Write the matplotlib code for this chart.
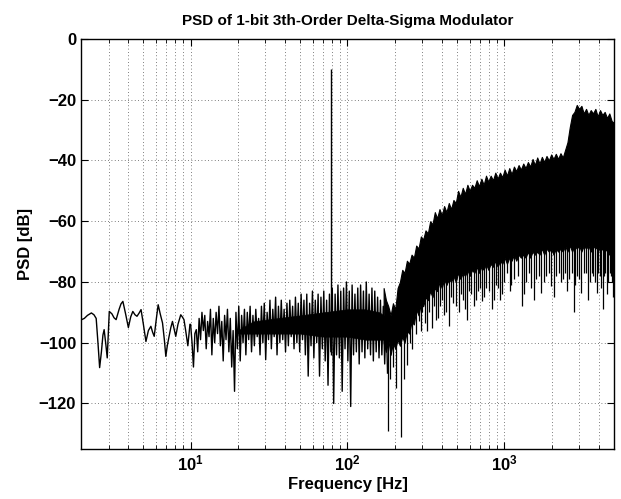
import numpy as np
import matplotlib
matplotlib.use('Agg')
import matplotlib.pyplot as plt

plt.rcParams['font.family'] = ['Liberation Sans', 'DejaVu Sans']
plt.rcParams['font.weight'] = 'bold'
plt.rcParams['mathtext.fontset'] = 'custom'
plt.rcParams['mathtext.rm'] = 'Liberation Sans:bold'
plt.rcParams['mathtext.it'] = 'Liberation Sans:bold'
plt.rcParams['mathtext.bf'] = 'Liberation Sans:bold'

# ---- low-frequency part of the PSD (resolved line) ----
freq_a = [2.0, 2.1, 2.2, 2.33, 2.42, 2.5, 2.57, 2.63, 2.7, 2.76, 2.81, 2.88, 2.94, 3.03, 3.15,
          3.25, 3.35, 3.5, 3.6, 3.7, 3.85, 4.01, 4.15, 4.28, 4.42, 4.55, 4.7, 4.83, 5.0, 5.19,
          5.38, 5.58, 5.72, 5.86, 6.05, 6.21, 6.4, 6.62, 6.8, 6.95, 7.1, 7.29, 7.48, 7.66, 7.85,
          8.04, 8.3, 8.65, 8.85, 9.07, 9.3, 9.6, 9.9]
psd_a = [-92.5, -92.0, -91.0, -90.2, -90.8, -92.0, -100.5, -108.2, -103.0, -97.5, -95.7, -100.5,
         -105.0, -89.7, -90.5, -91.8, -92.4, -89.0, -87.2, -86.4, -90.5, -95.0, -91.5, -89.7,
         -90.8, -91.3, -90.2, -89.1, -94.0, -99.6, -96.0, -94.6, -96.5, -97.9, -92.0, -87.5,
         -90.5, -93.5, -99.0, -104.5, -101.0, -97.9, -95.0, -93.0, -95.5, -97.9, -94.0, -90.8,
         -91.5, -92.4, -96.0, -101.0, -94.0]

# ---- 10 Hz .. 180 Hz (dense line, log-spaced bins) ----
freq_b_start, freq_b_stop = 10.0, 180.0
psd_b = [-94, -100, -108, -97, -95.7, -103, -92, -99, -90, -96,
         -91, -102, -93, -98, -89, -104, -92, -100, -90, -97,
         -88, -101, -93, -106, -91, -99, -89, -103, -92, -108,
         -96, -116, -90, -102, -88, -106, -91, -100, -89, -104,
         -90, -99, -88, -103, -91, -101, -89, -98, -92, -104,
         -88, -100, -87, -105.6, -90, -99, -86, -102, -89, -98,
         -85, -104, -88, -100, -86, -99, -89, -103, -87, -101,
         -86, -98, -88, -102, -85, -100, -87, -103, -84, -99,
         -86, -104, -84, -111, -87, -101, -83, -105, -86, -100,
         -84, -111, -85, -102, -83, -106, -86, -114, -84, -103,
         -82, -120, -84, -104, -81, -105, -83, -116, -82, -102,
         -80, -106, -83, -121, -81, -104, -84, -103, -82, -107,
         -81, -103, -83, -105, -80, -102, -84, -104, -82, -106,
         -83, -103, -85, -105, -86, -104, -88, -107, -90, -110]

# ---- dark core of the noise floor between 20 and 180 Hz ----
freq_d = [20, 25, 35, 50, 70, 100, 130, 160, 180]
top_d = [-96, -93, -92, -91, -90, -89, -89, -90, -92]
bot_d = [-97, -97, -97, -97, -98, -98, -99, -99, -99]

# ---- shaped-noise band 170 Hz .. 5 kHz (log-spaced bins) ----
freq_c_start, freq_c_stop = 170.0, 5000.0
top_c = [-82, -86, -88, -91, -87, -89, -82, -80, -76, -77,
         -73, -74, -71, -72, -68, -69, -65, -66, -63, -64,
         -60, -61, -57, -59, -56, -58, -55, -57, -54, -56,
         -53, -54, -50, -52, -49, -51, -48, -50, -48, -49,
         -46.5, -48.5, -46, -48, -45, -47, -45, -46.5, -44, -46,
         -44, -45.5, -43, -45, -42.5, -44.5, -42, -43.5, -41.5, -43,
         -41, -42.5, -40.5, -42, -39.5, -41.5, -39, -41, -38.8, -40.5,
         -38.5, -40, -38, -39.5, -37.8, -39.5, -37.6, -39, -36.5, -34,
         -29, -25, -24, -21.7, -23, -22, -24.5, -23, -25, -23.4,
         -24.5, -23, -25.5, -23.4, -25, -24, -26, -24.5, -27, -27.6]
bot_c = [-100, -103, -99, -104, -100, -102, -99, -101, -98, -100,
         -96, -97, -93, -94, -89, -91, -87, -88, -85, -86,
         -83, -85, -82, -83, -80, -82, -79, -81, -79, -80,
         -78, -80, -77, -79, -77, -78, -76, -78, -76, -77,
         -75, -77, -75, -76, -74, -76, -74, -75, -73, -75,
         -73, -74, -72, -74, -72, -73, -71, -73, -71, -72,
         -71, -72, -70, -72, -70, -71, -70, -71, -69, -71,
         -69, -70, -69, -71, -69, -70, -69, -70, -68, -70,
         -68, -70, -68, -69, -68, -70, -68, -69, -68, -70,
         -68, -69, -68, -70, -69, -70, -69, -71, -70, -72]

# ---- downward spikes of the noise band ----
spike_f = [182, 188, 195, 205, 219, 228, 240, 250, 258, 273, 285, 295, 310, 330, 345, 365, 390,
           410, 443, 470, 513, 545, 578, 610, 637, 680, 716, 760, 830, 880, 936, 1000, 1080,
           1150, 1290, 1380, 1480, 1600, 1720, 1850, 1990, 2150, 2300, 2450, 2600, 2780, 2900,
           3100, 3300, 3500, 3700, 3880, 4050, 4230, 4400, 4600, 4800, 4950,
           300, 320, 355, 378, 400, 425, 455, 490, 530, 560, 595, 660, 700, 740, 800, 860, 910,
           970, 1040, 1110, 1220, 1330, 1430, 1540, 1660, 1790, 1920, 2070, 2220, 2380, 2520,
           2690, 2840, 3000, 3200, 3400, 3600, 3790, 3960, 4140, 4310, 4500, 4700, 4880]
spike_lo = [-129, -112, -108, -115, -131, -112, -107.5, -100, -102, -97, -93, -96, -93.5, -90,
            -95, -92.4, -88, -91, -94.6, -87, -90, -86, -92.4, -84, -88, -83, -86.4, -82, -89,
            -81, -85.9, -80, -83, -79, -88, -80, -82, -79, -83.6, -78, -81.3, -78, -80, -77,
            -79, -90, -78, -83.6, -77, -80, -78, -83.6, -78, -89, -77, -80, -78, -85,
            -90, -96, -88, -92, -86, -90, -85, -88, -84, -89, -83, -86, -82, -85, -83, -86, -82,
            -84, -77, -81, -78, -84, -77, -86, -78, -80, -77, -85, -77, -79, -83,
            -77, -81, -79, -77, -86, -77, -80, -77, -82, -78, -84, -77, -80]
spike_hi = [-95, -95, -95, -95, -95, -92, -92, -88, -86, -84, -82, -82, -78, -78, -78, -75, -75,
            -75, -75, -72, -72, -72, -72, -72, -72, -70, -70, -70, -70, -70, -70, -68, -68,
            -68, -68, -66, -66, -66, -66, -66, -66, -66, -66, -66, -66, -66, -66,
            -66, -66, -66, -66, -66, -66, -66, -66, -66, -66, -66,
            -84, -84, -80, -78, -78, -78, -76, -76, -75, -75, -74, -73, -73, -72, -72, -71, -71,
            -70, -68, -68, -68, -68, -66, -66, -66, -66, -66, -66, -66, -66, -66,
            -66, -66, -66, -66, -66, -66, -66, -66, -66, -66, -66, -66, -66]

# ---- input tone ----
tone_f = [79]
tone_base = [-104]
tone_peak = [-10]

y_ticks = [0, -20, -40, -60, -80, -100, -120]
x_ticks = [10, 100, 1000]
x_ticklabels = ['$10^{1}$', '$10^{2}$', '$10^{3}$']

assert len(freq_a) == len(psd_a)
assert len(top_c) == len(bot_c)
assert len(freq_d) == len(top_d) == len(bot_d)
assert len(spike_f) == len(spike_lo) == len(spike_hi)

freq_b = np.geomspace(freq_b_start, freq_b_stop, len(psd_b))
freq_c = np.geomspace(freq_c_start, freq_c_stop, len(top_c))

fig = plt.figure(figsize=(6.21, 4.99), dpi=100)
ax = fig.add_axes([0.1304, 0.1002, 0.8583, 0.8216])
ax.set_xscale('log')

grid_kw = dict(color='#555555', linestyle=(0, (1, 3)), linewidth=0.6)
ax.grid(True, which='both', axis='x', **grid_kw)
ax.grid(True, which='major', axis='y', **grid_kw)
ax.set_axisbelow(True)

ax.fill_between(freq_d, bot_d, top_d, color='black', linewidth=0.5, edgecolor='black')
ax.fill_between(freq_c, bot_c, top_c, color='black', linewidth=0.8, edgecolor='black')
ax.vlines(spike_f, spike_lo, spike_hi, colors='black', linewidth=0.9)
ax.plot(freq_a, psd_a, color='black', linewidth=1.0)
ax.plot(freq_b, psd_b, color='black', linewidth=1.0)
ax.vlines(tone_f, tone_base, tone_peak, colors='black', linewidth=1.0)

ax.set_xlim(2, 5000)
ax.set_ylim(-135, 0)
ax.set_yticks(y_ticks)
ax.set_xticks(x_ticks)
ax.set_xticklabels(x_ticklabels)
ax.tick_params(which='both', direction='in', top=True, right=True, labelsize=12)
ax.tick_params(which='major', length=5)
ax.tick_params(which='minor', length=3)
for s in ax.spines.values():
    s.set_linewidth(1.0)

ax.set_title('PSD of 1-bit 3th-Order Delta-Sigma Modulator', fontsize=11, fontweight='bold', pad=10)
ax.set_xlabel('Frequency [Hz]', fontsize=12, fontweight='bold', labelpad=2)
ax.set_ylabel('PSD [dB]', fontsize=12, fontweight='bold', labelpad=4)

fig.savefig('out.png', dpi=100)
